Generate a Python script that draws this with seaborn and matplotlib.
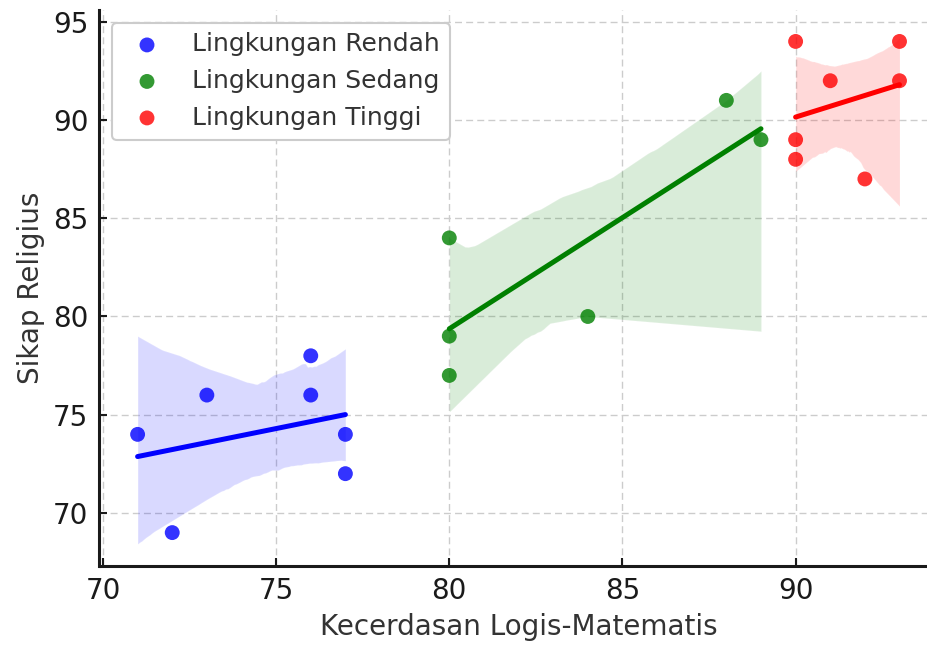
import matplotlib
matplotlib.use("Agg")
import matplotlib.pyplot as plt
import seaborn as sns
import pandas as pd

# Data
rendah_x = [71, 72, 73, 76, 76, 77, 77]
rendah_y = [74, 69, 76, 78, 76, 74, 72]
sedang_x = [80, 80, 80, 84, 88, 89]
sedang_y = [84, 79, 77, 80, 91, 89]
tinggi_x = [90, 90, 90, 91, 92, 93, 93]
tinggi_y = [94, 89, 88, 92, 87, 94, 92]

groups = ["Lingkungan Rendah", "Lingkungan Sedang", "Lingkungan Tinggi"]
colors = ["blue", "green", "red"]
xs = [rendah_x, sedang_x, tinggi_x]
ys = [rendah_y, sedang_y, tinggi_y]

x_label = "Kecerdasan Logis-Matematis"
y_label = "Sikap Religius"
x_ticks = [70, 75, 80, 85, 90]
y_ticks = [70, 75, 80, 85, 90, 95]

sns.set_style("white")
plt.rcParams["font.family"] = ["DejaVu Sans"]

fig = plt.figure(figsize=(9.28, 6.46), dpi=100)
ax = fig.add_axes([99.5 / 928, 80 / 646, (937.6 - 99.5) / 928, (566 - 10) / 646])

for g, c, x, y in zip(groups, colors, xs, ys):
    df = pd.DataFrame({"x": x, "y": y})
    sns.scatterplot(data=df, x="x", y="y", color=c, alpha=0.8, s=115,
                    edgecolor="none", label=g, ax=ax, zorder=3)
    sns.regplot(data=df, x="x", y="y", scatter=False, color=c, ci=95,
                seed=1, line_kws=dict(lw=3.6), ax=ax)

ax.set_xlim(69.9, 94.1)
ax.set_ylim(67.3, 95.6)
ax.set_xticks(x_ticks)
ax.set_yticks(y_ticks)

ax.grid(True, linestyle=(0, (5, 3)), color="#cccccc", linewidth=1.0)
ax.set_axisbelow(True)
for side in ["top", "right"]:
    ax.spines[side].set_visible(False)
for side in ["left", "bottom"]:
    ax.spines[side].set_color("#1a1a1a")
    ax.spines[side].set_linewidth(2.2)

ax.tick_params(axis="both", labelsize=20, length=6, width=1.5,
               colors="#1a1a1a", direction="in", left=True, bottom=True,
               pad=8)
ax.set_xlabel(x_label, fontsize=20, color="#333333", labelpad=6)
ax.set_ylabel(y_label, fontsize=20, color="#333333", labelpad=6)

leg = ax.legend(loc="upper left", fontsize=18, frameon=True, fancybox=True,
                edgecolor="#cccccc", framealpha=1.0, borderaxespad=0.5,
                markerscale=1.0)
for t in leg.get_texts():
    t.set_color("#333333")
leg.get_frame().set_linewidth(1.5)

fig.savefig("out.png", dpi=100)
